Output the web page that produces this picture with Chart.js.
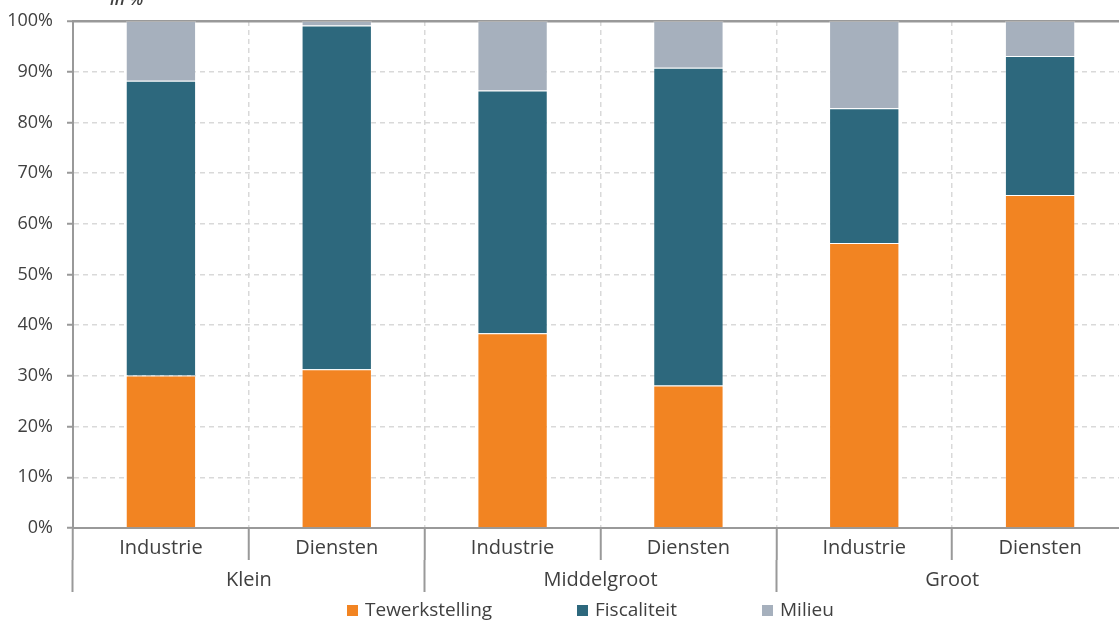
<!DOCTYPE html>
<html>
<head>
<meta charset="utf-8">
<script src="https://cdn.jsdelivr.net/npm/chart.js@4.4.0/dist/chart.umd.min.js"></script>
<style>
  html, body { margin: 0; padding: 0; overflow: hidden; background: #ffffff; }
  #wrap { width: 1130px; height: 621px; }
</style>
</head>
<body>
<div id="wrap"><canvas id="chart" width="1130" height="621"></canvas></div>
<script>
// Sector per bar, grouped by company size
const sectors = ['Industrie', 'Diensten', 'Industrie', 'Diensten', 'Industrie', 'Diensten'];
const sizes = ['Klein', 'Middelgroot', 'Groot'];

// Share of each theme, in %
const tewerkstelling = [30.1, 31.3, 38.4, 28.1, 56.2, 65.7];
const fiscaliteit    = [58.1, 67.8, 47.9, 62.7, 26.6, 27.4];
const milieu         = [11.8,  0.9, 13.7,  9.2, 17.2,  6.9];

const seriesNames = ['Tewerkstelling', 'Fiscaliteit', 'Milieu'];
const seriesColors = ['#F28422', '#2D687D', '#A6B0BD'];

const yMin = 0, yMax = 100, yStep = 10;

const TEXT = '#404040';
const AXIS = '#999999';
const GRID = '#d9d9d9';
const FONT = "'Open Sans', sans-serif";

// Unit caption above the value axis
const unitCaption = {
  id: 'unitCaption',
  afterDraw(chart) {
    const ctx = chart.ctx;
    ctx.save();
    ctx.font = "italic 600 17px " + FONT;
    ctx.fillStyle = TEXT;
    ctx.textAlign = 'left';
    ctx.textBaseline = 'alphabetic';
    ctx.fillText('in %', chart.chartArea.left + 37, 5);
    ctx.restore();
  }
};

// Legend row below the size groups
const bottomLegend = {
  id: 'bottomLegend',
  afterDraw(chart) {
    const ctx = chart.ctx;
    const area = chart.chartArea;
    const offsets = [274, 504, 689];
    const y = 611;
    ctx.save();
    ctx.font = "19px " + FONT;
    ctx.textAlign = 'left';
    ctx.textBaseline = 'middle';
    chart.data.datasets.forEach((ds, i) => {
      const x = area.left + offsets[i];
      ctx.fillStyle = ds.backgroundColor;
      ctx.fillRect(x, y - 6, 11, 11);
      ctx.fillStyle = TEXT;
      ctx.fillText(ds.label, x + 18, y);
    });
    ctx.restore();
  }
};

const values = [tewerkstelling, fiscaliteit, milieu];

new Chart(document.getElementById('chart'), {
  type: 'bar',
  data: {
    labels: sectors,
    datasets: values.map((v, i) => ({
      label: seriesNames[i],
      data: v,
      backgroundColor: seriesColors[i],
      borderColor: 'rgba(255,255,255,0.25)',
      borderWidth: 1,
      categoryPercentage: 1,
      barPercentage: 0.4
    }))
  },
  options: {
    responsive: false,
    animation: false,
    devicePixelRatio: 1,
    layout: { padding: { top: 21, right: 2, bottom: 29, left: 0 } },
    plugins: {
      legend: { display: false },
      tooltip: { enabled: false }
    },
    scales: {
      x: {
        stacked: true,
        offset: true,
        weight: 0,
        grid: {
          offset: true,
          color: GRID,
          lineWidth: 1.5,
          tickLength: 32,
          tickColor: AXIS,
          tickWidth: 2,
          tickBorderDash: []
        },
        border: { display: true, color: AXIS, width: 2, dash: [5, 4] },
        ticks: {
          padding: -24,
          color: TEXT,
          font: { family: FONT, size: 20 },
          maxRotation: 0,
          autoSkip: false
        },
        afterFit(scale) { scale.height = 32; scale.paddingLeft = 0; scale.paddingRight = 0; }
      },
      x2: {
        type: 'category',
        labels: sizes,
        position: 'bottom',
        offset: true,
        weight: 1,
        grid: {
          offset: true,
          drawOnChartArea: false,
          tickLength: 32,
          tickColor: AXIS,
          tickWidth: 2,
          tickBorderDash: []
        },
        border: { display: false },
        ticks: {
          padding: -24,
          color: TEXT,
          font: { family: FONT, size: 20 },
          maxRotation: 0,
          autoSkip: false
        },
        afterFit(scale) { scale.height = 32; scale.paddingLeft = 0; scale.paddingRight = 0; }
      },
      y: {
        stacked: true,
        min: yMin,
        max: yMax,
        ticks: {
          stepSize: yStep,
          padding: 14,
          color: TEXT,
          font: { family: FONT, size: 18 },
          callback: v => v + '%'
        },
        grid: {
          color: c => (c.tick && c.tick.value === yMax) ? AXIS : GRID,
          lineWidth: c => (c.tick && c.tick.value === yMax) ? 2.5 : 1.5,
          tickLength: 6,
          tickColor: AXIS,
          tickWidth: 2,
          tickBorderDash: []
        },
        border: {
          display: true,
          color: AXIS,
          width: 2,
          dash: c => (c.tick && c.tick.value === yMax) ? [] : [5, 4]
        },
        afterFit(scale) { scale.width = 73; scale.paddingTop = 0; scale.paddingBottom = 0; }
      }
    }
  },
  plugins: [unitCaption, bottomLegend]
});
</script>
</body>
</html>
